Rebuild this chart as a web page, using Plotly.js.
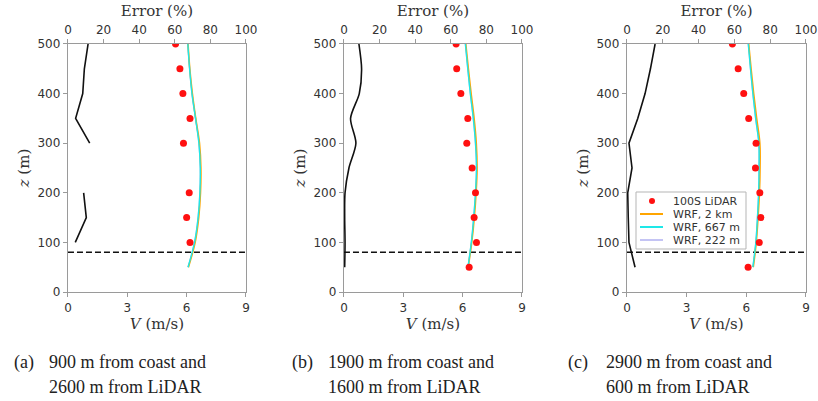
<!DOCTYPE html>
<html>
<head>
<meta charset="utf-8">
<script src="https://cdn.plot.ly/plotly-3.0.1.min.js"></script>
<style>
  html, body { margin: 0; padding: 0; background: #fff; }
  #chart { width: 818px; height: 401px; }
</style>
</head>
<body>
<div id="chart"></div>
<script>
// Heights (m) of the measurement and model levels
const zLevels = [50, 100, 150, 200, 250, 300, 350, 400, 450, 500];

// Panel (a): 900 m from coast, 2600 m from LiDAR
const lidarA   = [null, 6.17, 6.00, 6.13, null, 5.84, 6.17, 5.81, 5.66, 5.44];
const wrf2kmA  = [6.09, 6.43, 6.61, 6.70, 6.72, 6.65, 6.46, 6.29, 6.16, 6.07];
const wrf667A  = [6.07, 6.40, 6.58, 6.67, 6.69, 6.62, 6.45, 6.27, 6.15, 6.06];
const wrf222A  = [6.07, 6.40, 6.58, 6.67, 6.69, 6.62, 6.45, 6.27, 6.15, 6.06];
const errorA   = [null, 4.1, 10.3, 8.8, null, 12.2, 4.3, 8.3, 9.2, 11.3];

// Panel (b): 1900 m from coast, 1600 m from LiDAR
const lidarB   = [6.33, 6.70, 6.58, 6.65, 6.48, 6.21, 6.26, 5.91, 5.70, 5.67];
const wrf2kmB  = [6.28, 6.46, 6.59, 6.68, 6.73, 6.69, 6.58, 6.43, 6.29, 6.16];
const wrf667B  = [6.27, 6.44, 6.56, 6.65, 6.70, 6.65, 6.54, 6.39, 6.26, 6.14];
const wrf222B  = [6.27, 6.44, 6.56, 6.65, 6.70, 6.65, 6.54, 6.39, 6.26, 6.14];
const errorB   = [0.4, 0.6, 0.4, 0.6, 2.8, 6.7, 3.7, 8.6, 9.9, 8.4];

// Panel (c): 2900 m from coast, 600 m from LiDAR
const lidarC   = [6.09, 6.65, 6.73, 6.68, 6.46, 6.49, 6.12, 5.87, 5.59, 5.30];
const wrf2kmC  = [6.35, 6.50, 6.59, 6.66, 6.69, 6.68, 6.52, 6.37, 6.24, 6.12];
const wrf667C  = [6.33, 6.48, 6.56, 6.62, 6.64, 6.63, 6.47, 6.33, 6.21, 6.10];
const wrf222C  = [6.33, 6.48, 6.56, 6.62, 6.64, 6.63, 6.47, 6.33, 6.21, 6.10];
const errorC   = [4.5, 1.1, 0.7, 0.4, 2.8, 1.1, 6.0, 10.1, 13.1, 15.7];

// Hub-height reference line
const hubHeight = 80;
const speedRange = [0, 9];

const speedTicks = [0, 3, 6, 9];
const errorTicks = [0, 20, 40, 60, 80, 100];
const heightTicks = [0, 100, 200, 300, 400, 500];

const seriesNames = ['100S LiDAR', 'WRF, 2 km', 'WRF, 667 m', 'WRF, 222 m'];

const captionTags = ['(a)', '(b)', '(c)'];
const captionLine1 = ['900 m from coast and', '1900 m from coast and', '2900 m from coast and'];
const captionLine2 = ['2600 m from LiDAR', '1600 m from LiDAR', '600 m from LiDAR'];

const panels = [
  {lidar: lidarA, w2: wrf2kmA, w667: wrf667A, w222: wrf222A, err: errorA, errShape: 'linear'},
  {lidar: lidarB, w2: wrf2kmB, w667: wrf667B, w222: wrf222B, err: errorB, errShape: 'spline'},
  {lidar: lidarC, w2: wrf2kmC, w667: wrf667C, w222: wrf222C, err: errorC, errShape: 'linear'}
];

const COL_RED = '#ff1010';
const COL_ORANGE = '#ffa500';
const COL_CYAN = '#1ee8e8';
const COL_LAVENDER = '#c4c4f4';

const traces = [];
panels.forEach((p, i) => {
  const xb = i === 0 ? 'x' : 'x' + (i + 1);
  const xt = 'x' + (i + 4);
  const ya = i === 0 ? 'y' : 'y' + (i + 1);

  traces.push({
    x: p.err, y: zLevels, xaxis: xt, yaxis: ya, mode: 'lines',
    line: {color: '#111', width: 1.6, shape: p.errShape, smoothing: 0.8}, connectgaps: false
  });
  traces.push({
    x: speedRange, y: [hubHeight, hubHeight], xaxis: xb, yaxis: ya, mode: 'lines',
    line: {color: '#111', width: 1.5, dash: '6px,3px'}
  });
  traces.push({
    x: p.w222, y: zLevels, xaxis: xb, yaxis: ya, mode: 'lines', name: seriesNames[3],
    line: {color: COL_LAVENDER, width: 1.4, shape: 'spline'}
  });
  traces.push({
    x: p.w2, y: zLevels, xaxis: xb, yaxis: ya, mode: 'lines', name: seriesNames[1],
    line: {color: COL_ORANGE, width: 1.6, shape: 'spline'}
  });
  traces.push({
    x: p.w667, y: zLevels, xaxis: xb, yaxis: ya, mode: 'lines', name: seriesNames[2],
    line: {color: COL_CYAN, width: 1.4, shape: 'spline'}
  });
  traces.push({
    x: p.lidar, y: zLevels, xaxis: xb, yaxis: ya, mode: 'markers', name: seriesNames[0],
    marker: {color: COL_RED, size: 7}
  });
});

const tickFont = {family: 'DejaVu Sans', size: 12, color: '#333'};
const titleFont = {family: 'DejaVu Serif', size: 15, color: '#333'};
const lineCol = '#9a9a9a';

const domainsX = [[0.0831, 0.3007], [0.4205, 0.6381], [0.7665, 0.9853]];
const domainY = [0.2718, 0.8903];

const W = 818, H = 401;
const px = v => v / W;
const py = v => (H - v) / H;

const layout = {
  width: W, height: H,
  margin: {l: 0, r: 0, t: 0, b: 0},
  paper_bgcolor: '#fff', plot_bgcolor: '#fff',
  showlegend: false,
  annotations: [],
  shapes: []
};

for (let i = 0; i < 3; i++) {
  const bx = i === 0 ? 'xaxis' : 'xaxis' + (i + 1);
  const tx = 'xaxis' + (i + 4);
  const yk = i === 0 ? 'yaxis' : 'yaxis' + (i + 1);
  const yId = i === 0 ? 'y' : 'y' + (i + 1);
  const xId = i === 0 ? 'x' : 'x' + (i + 1);

  layout[bx] = {
    domain: domainsX[i], anchor: yId, range: speedRange,
    tickvals: speedTicks, ticks: 'outside', ticklen: 4, tickcolor: lineCol,
    showline: true, linecolor: lineCol, linewidth: 1.2,
    showgrid: false, zeroline: false, tickfont: tickFont,
    title: {text: '<i>V</i> (m/s)', font: titleFont, standoff: 2}
  };
  layout[tx] = {
    overlaying: xId, side: 'top', anchor: yId, range: [0, 100],
    tickvals: errorTicks, ticks: 'outside', ticklen: 4, tickcolor: lineCol,
    showline: true, linecolor: lineCol, linewidth: 1.2,
    showgrid: false, zeroline: false, tickfont: tickFont,
    title: {text: 'Error (%)', font: titleFont, standoff: 2}
  };
  layout[yk] = {
    domain: domainY, anchor: xId, range: [0, 500],
    tickvals: heightTicks, ticks: 'outside', ticklen: 4, tickcolor: lineCol,
    showline: true, mirror: true, linecolor: lineCol, linewidth: 1.2,
    showgrid: false, zeroline: false, tickfont: tickFont,
    title: {text: '<i>z</i> (m)', font: titleFont, standoff: 4}
  };
}

// Compact legend box inside panel (c)
const legBox = {x0: 636, x1: 746, y0: 192, y1: 249};
layout.shapes.push({
  type: 'rect', xref: 'paper', yref: 'paper',
  x0: px(legBox.x0), x1: px(legBox.x1), y0: py(legBox.y1), y1: py(legBox.y0),
  line: {color: '#b5b5b5', width: 1}, fillcolor: 'rgba(255,255,255,0.9)', layer: 'above'
});
const legRows = [201, 214, 227, 240];
const legColors = [COL_RED, COL_ORANGE, COL_CYAN, COL_LAVENDER];
legRows.forEach((ry, k) => {
  if (k === 0) {
    layout.shapes.push({
      type: 'circle', xref: 'paper', yref: 'paper',
      x0: px(649), x1: px(655), y0: py(ry + 3), y1: py(ry - 3),
      line: {width: 0}, fillcolor: COL_RED, layer: 'above'
    });
  } else {
    layout.shapes.push({
      type: 'line', xref: 'paper', yref: 'paper',
      x0: px(640), x1: px(663), y0: py(ry), y1: py(ry),
      line: {color: legColors[k], width: 2}, layer: 'above'
    });
  }
  layout.annotations.push({
    xref: 'paper', yref: 'paper', x: px(672), y: py(ry),
    xanchor: 'left', yanchor: 'middle', text: seriesNames[k], showarrow: false,
    height: 12, borderpad: 0, valign: 'middle',
    font: {family: 'DejaVu Sans', size: 11, color: '#333'}
  });
});

// Sub-figure captions
const capTagX = [12, 290, 566];
const capTextX = [47, 326, 604];
const capFont = {family: 'Liberation Serif', size: 18, color: '#222'};
for (let i = 0; i < 3; i++) {
  layout.annotations.push({
    xref: 'paper', yref: 'paper', x: px(capTagX[i]), y: py(362),
    xanchor: 'left', yanchor: 'middle', text: captionTags[i], showarrow: false, font: capFont
  });
  layout.annotations.push({
    xref: 'paper', yref: 'paper', x: px(capTextX[i]), y: py(362),
    xanchor: 'left', yanchor: 'middle', text: captionLine1[i], showarrow: false, font: capFont
  });
  layout.annotations.push({
    xref: 'paper', yref: 'paper', x: px(capTextX[i]), y: py(387),
    xanchor: 'left', yanchor: 'middle', text: captionLine2[i], showarrow: false, font: capFont
  });
}

Plotly.newPlot('chart', traces, layout, {staticPlot: true, displayModeBar: false});
</script>
</body>
</html>
